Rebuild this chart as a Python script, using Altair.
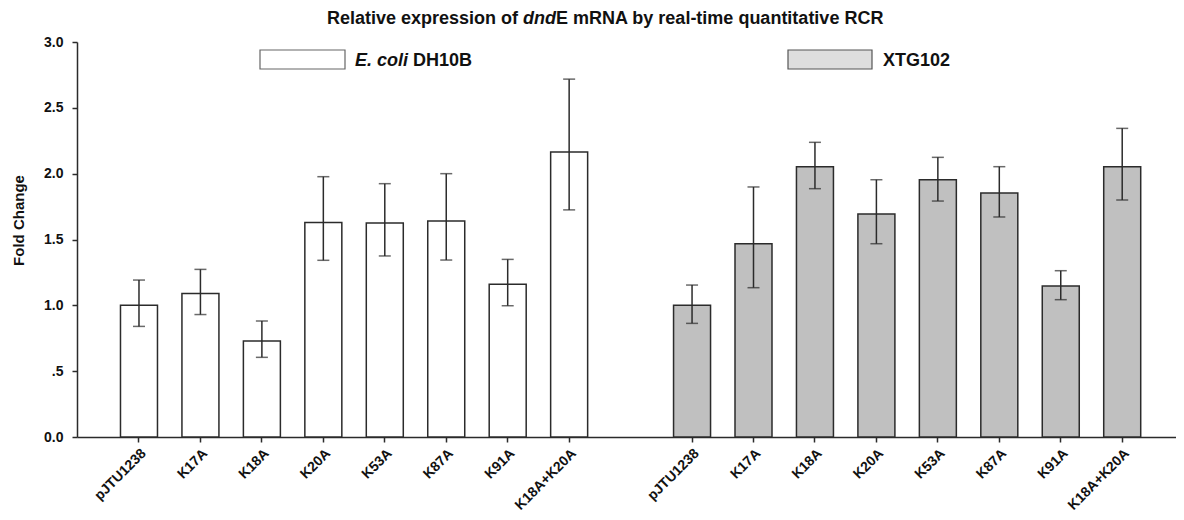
import altair as alt
import pandas as pd

# ---- data ----
categories = ["pJTU1238", "K17A", "K18A", "K20A", "K53A", "K87A", "K91A", "K18A+K20A"]
strains = ["E. coli DH10B", "XTG102"]

ecoli_mean = [1.00, 1.09, 0.73, 1.63, 1.625, 1.64, 1.16, 2.165]
ecoli_low = [0.84, 0.93, 0.605, 1.342, 1.375, 1.344, 0.997, 1.725]
ecoli_high = [1.192, 1.273, 0.881, 1.977, 1.924, 2.00, 1.349, 2.718]

xtg_mean = [1.00, 1.468, 2.053, 1.694, 1.954, 1.853, 1.147, 2.053]
xtg_low = [0.863, 1.134, 1.886, 1.468, 1.792, 1.671, 1.043, 1.80]
xtg_high = [1.154, 1.899, 2.238, 1.954, 2.124, 2.053, 1.263, 2.344]

y_ticks = [0, 0.5, 1.0, 1.5, 2.0, 2.5, 3.0]

# ---- build table ----
rows = []
for c, m, lo, hi in zip(categories, ecoli_mean, ecoli_low, ecoli_high):
    rows.append({"key": "A|" + c, "strain": strains[0], "mean": m, "low": lo, "high": hi})
for c, m, lo, hi in zip(categories, xtg_mean, xtg_low, xtg_high):
    rows.append({"key": "B|" + c, "strain": strains[1], "mean": m, "low": lo, "high": hi})
df = pd.DataFrame(rows)

keys_left = ["A|" + c for c in categories]
keys_right = ["B|" + c for c in categories]
domain = keys_left + ["gap|"] + keys_right

FONT = "Liberation Sans"
INK = "#2b2b2b"
H = 429      # plot group height (includes headroom for title/legend)
TOP = 34     # where the 3.0 tick sits inside the group

xscale = alt.Scale(domain=domain, paddingInner=0.398, paddingOuter=0.641, align=0.552)
xaxis = alt.Axis(
    values=keys_left + keys_right,
    labelExpr="split(datum.label, '|')[1]",
    labelAngle=-45, labelAlign="right", labelBaseline="top",
    labelPadding=4, tickSize=5, title=None, labelLimit=300,
    labelFont=FONT, labelFontSize=14, labelFontWeight="bold", labelColor="#111",
)
yscale = alt.Scale(domain=[0, 3], nice=False, zero=True, range=[H, TOP])
yaxis = alt.Axis(
    values=y_ticks,
    labelExpr="datum.value == 0.5 ? '.5' : format(datum.value, '.1f')",
    tickSize=5, labelPadding=9, grid=False,
    title="Fold Change", titleFont=FONT, titleFontSize=15, titleFontWeight="bold",
    titleColor="#111", titleX=-59, titleY=212, titleAngle=-90,
    titleAlign="center", titleBaseline="middle",
    labelFont=FONT, labelFontSize=14, labelFontWeight="bold", labelColor="#111",
)

base = alt.Chart(df)

bars = base.mark_bar(stroke=INK, strokeWidth=1.5).encode(
    x=alt.X("key:N", scale=xscale, axis=xaxis, sort=domain),
    y=alt.Y("mean:Q", scale=yscale, axis=yaxis),
    fill=alt.Fill("strain:N", scale=alt.Scale(domain=strains, range=["#ffffff", "#c0c0c0"]), legend=None),
)

err = base.mark_rule(color=INK, strokeWidth=1.5).encode(
    x=alt.X("key:N", scale=xscale, sort=domain),
    y="low:Q",
    y2="high:Q",
)
cap_lo = base.mark_tick(color=INK, thickness=1.5, size=12).encode(
    x=alt.X("key:N", scale=xscale, sort=domain), y="low:Q")
cap_hi = base.mark_tick(color=INK, thickness=1.5, size=12).encode(
    x=alt.X("key:N", scale=xscale, sort=domain), y="high:Q")

one = pd.DataFrame({"a": [0]})

# legend boxes and labels
box1 = alt.Chart(one).mark_rect(fill="#ffffff", stroke="#666", strokeWidth=1.2).encode(
    x=alt.value(183), x2=alt.value(268), y=alt.value(42), y2=alt.value(61))
box2 = alt.Chart(one).mark_rect(fill="#dedede", stroke="#555", strokeWidth=1.2).encode(
    x=alt.value(711), x2=alt.value(795), y=alt.value(42), y2=alt.value(61))

def txt(s, x, y, size, style="normal", align="left"):
    return alt.Chart(pd.DataFrame({"t": [s]})).mark_text(
        font=FONT, fontSize=size, fontWeight="bold", fontStyle=style,
        align=align, baseline="alphabetic", color="#111",
    ).encode(text="t:N", x=alt.value(x), y=alt.value(y))

leg1a = txt("E. coli", 278, 58, 18, "italic")
leg1b = txt("DH10B", 336, 58, 18)
leg2 = txt("XTG102", 806, 58, 18)

# title with italic gene name
t1 = txt("Relative expression of", 441, 16, 18, align="right")
t2 = txt("dnd", 446, 16, 18, "italic")
t3 = txt("E mRNA by real-time quantitative RCR", 479, 16, 18)

chart = alt.layer(
    bars, err, cap_lo, cap_hi, box1, box2, leg1a, leg1b, leg2, t1, t2, t3
).properties(
    width=1099, height=H,
    padding={"left": 69, "top": 0, "right": 0, "bottom": 82},
    autosize=alt.AutoSizeParams(type="none"),
    background="white",
).configure_view(stroke=None).configure_axis(
    domainColor=INK, tickColor=INK, domainWidth=1.5, tickWidth=1.5,
)

chart.save("out.html", embed_options={"renderer": "svg", "actions": False})
